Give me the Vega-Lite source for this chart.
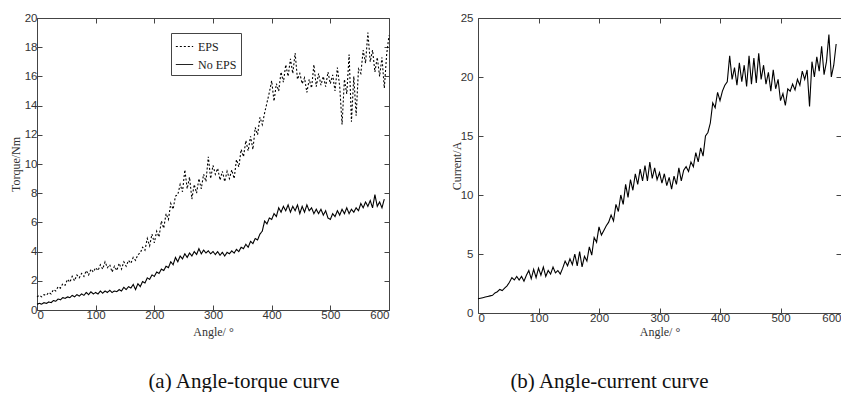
{
  "$schema": "https://vega.github.io/schema/vega-lite/v6.json",
  "background": "white",
  "padding": {"left": 8, "top": 11, "right": 0, "bottom": 0},
  "spacing": 57,
  "config": {
    "view": {"stroke": "#444", "strokeWidth": 1},
    "axis": {
      "domain": false,
      "grid": false,
      "tickSize": -5,
      "tickColor": "#444",
      "labelFont": "Liberation Sans",
      "labelFontSize": 11.5,
      "labelColor": "#333",
      "titleFont": "Liberation Serif",
      "titleFontSize": 12,
      "titleFontWeight": "normal",
      "titleColor": "#333"
    },
    "title": {"font": "Liberation Serif", "fontSize": 21, "fontWeight": "normal", "color": "#111", "orient": "bottom", "anchor": "middle"}
  },
  "datasets": {
    "torque": [
      {"a":0,"v":0.9,"s":"EPS"},{"a":4,"v":1.0,"s":"EPS"},{"a":8,"v":0.9,"s":"EPS"},{"a":12,"v":1.05,"s":"EPS"},{"a":16,"v":1.0,"s":"EPS"},{"a":20,"v":1.2,"s":"EPS"},{"a":24,"v":1.1,"s":"EPS"},{"a":28,"v":1.4,"s":"EPS"},{"a":32,"v":1.3,"s":"EPS"},{"a":36,"v":1.6,"s":"EPS"},{"a":40,"v":1.5,"s":"EPS"},{"a":44,"v":1.8,"s":"EPS"},{"a":48,"v":1.7,"s":"EPS"},{"a":52,"v":2.1,"s":"EPS"},{"a":56,"v":1.9,"s":"EPS"},{"a":60,"v":2.3,"s":"EPS"},{"a":64,"v":2.0,"s":"EPS"},{"a":68,"v":2.4,"s":"EPS"},{"a":72,"v":2.2,"s":"EPS"},{"a":76,"v":2.5,"s":"EPS"},{"a":80,"v":2.3,"s":"EPS"},{"a":84,"v":2.7,"s":"EPS"},{"a":88,"v":2.4,"s":"EPS"},{"a":92,"v":2.8,"s":"EPS"},{"a":96,"v":2.6,"s":"EPS"},{"a":100,"v":2.9,"s":"EPS"},{"a":104,"v":2.7,"s":"EPS"},{"a":108,"v":3.1,"s":"EPS"},{"a":112,"v":2.8,"s":"EPS"},{"a":116,"v":3.3,"s":"EPS"},{"a":120,"v":2.9,"s":"EPS"},{"a":124,"v":3.1,"s":"EPS"},{"a":128,"v":2.6,"s":"EPS"},{"a":132,"v":3.0,"s":"EPS"},{"a":136,"v":2.7,"s":"EPS"},{"a":140,"v":3.2,"s":"EPS"},{"a":144,"v":2.8,"s":"EPS"},{"a":148,"v":3.3,"s":"EPS"},{"a":152,"v":3.0,"s":"EPS"},{"a":156,"v":3.4,"s":"EPS"},{"a":160,"v":3.2,"s":"EPS"},{"a":164,"v":3.6,"s":"EPS"},{"a":168,"v":3.4,"s":"EPS"},{"a":172,"v":3.8,"s":"EPS"},{"a":176,"v":3.9,"s":"EPS"},{"a":180,"v":4.3,"s":"EPS"},{"a":184,"v":4.1,"s":"EPS"},{"a":188,"v":4.9,"s":"EPS"},{"a":192,"v":4.4,"s":"EPS"},{"a":196,"v":5.2,"s":"EPS"},{"a":200,"v":4.6,"s":"EPS"},{"a":204,"v":5.4,"s":"EPS"},{"a":208,"v":5.0,"s":"EPS"},{"a":212,"v":6.1,"s":"EPS"},{"a":216,"v":5.6,"s":"EPS"},{"a":220,"v":6.6,"s":"EPS"},{"a":224,"v":6.2,"s":"EPS"},{"a":228,"v":7.3,"s":"EPS"},{"a":232,"v":6.9,"s":"EPS"},{"a":236,"v":7.8,"s":"EPS"},{"a":240,"v":7.9,"s":"EPS"},{"a":244,"v":8.6,"s":"EPS"},{"a":248,"v":8.1,"s":"EPS"},{"a":252,"v":9.6,"s":"EPS"},{"a":256,"v":8.3,"s":"EPS"},{"a":260,"v":9.1,"s":"EPS"},{"a":264,"v":7.6,"s":"EPS"},{"a":268,"v":8.6,"s":"EPS"},{"a":272,"v":8.0,"s":"EPS"},{"a":276,"v":9.0,"s":"EPS"},{"a":280,"v":8.3,"s":"EPS"},{"a":284,"v":9.3,"s":"EPS"},{"a":288,"v":8.8,"s":"EPS"},{"a":292,"v":10.5,"s":"EPS"},{"a":296,"v":9.0,"s":"EPS"},{"a":300,"v":9.9,"s":"EPS"},{"a":304,"v":9.3,"s":"EPS"},{"a":308,"v":9.7,"s":"EPS"},{"a":312,"v":8.9,"s":"EPS"},{"a":316,"v":9.5,"s":"EPS"},{"a":320,"v":8.8,"s":"EPS"},{"a":324,"v":9.5,"s":"EPS"},{"a":328,"v":9.0,"s":"EPS"},{"a":332,"v":9.6,"s":"EPS"},{"a":336,"v":9.0,"s":"EPS"},{"a":340,"v":10.3,"s":"EPS"},{"a":344,"v":9.8,"s":"EPS"},{"a":348,"v":11.0,"s":"EPS"},{"a":352,"v":10.5,"s":"EPS"},{"a":356,"v":11.6,"s":"EPS"},{"a":360,"v":10.9,"s":"EPS"},{"a":364,"v":11.9,"s":"EPS"},{"a":368,"v":11.0,"s":"EPS"},{"a":372,"v":12.5,"s":"EPS"},{"a":376,"v":12.0,"s":"EPS"},{"a":380,"v":13.2,"s":"EPS"},{"a":384,"v":12.7,"s":"EPS"},{"a":388,"v":13.5,"s":"EPS"},{"a":392,"v":14.2,"s":"EPS"},{"a":396,"v":14.9,"s":"EPS"},{"a":400,"v":15.7,"s":"EPS"},{"a":404,"v":14.3,"s":"EPS"},{"a":408,"v":15.5,"s":"EPS"},{"a":412,"v":15.0,"s":"EPS"},{"a":416,"v":16.3,"s":"EPS"},{"a":420,"v":15.6,"s":"EPS"},{"a":424,"v":16.8,"s":"EPS"},{"a":428,"v":16.0,"s":"EPS"},{"a":432,"v":17.2,"s":"EPS"},{"a":436,"v":16.2,"s":"EPS"},{"a":440,"v":17.6,"s":"EPS"},{"a":444,"v":15.8,"s":"EPS"},{"a":448,"v":16.2,"s":"EPS"},{"a":452,"v":15.5,"s":"EPS"},{"a":456,"v":15.9,"s":"EPS"},{"a":460,"v":14.9,"s":"EPS"},{"a":464,"v":15.8,"s":"EPS"},{"a":468,"v":15.2,"s":"EPS"},{"a":472,"v":16.8,"s":"EPS"},{"a":476,"v":15.3,"s":"EPS"},{"a":480,"v":16.2,"s":"EPS"},{"a":484,"v":15.4,"s":"EPS"},{"a":488,"v":16.0,"s":"EPS"},{"a":492,"v":15.3,"s":"EPS"},{"a":496,"v":16.3,"s":"EPS"},{"a":500,"v":15.5,"s":"EPS"},{"a":504,"v":16.1,"s":"EPS"},{"a":508,"v":15.0,"s":"EPS"},{"a":512,"v":16.6,"s":"EPS"},{"a":516,"v":15.3,"s":"EPS"},{"a":520,"v":12.7,"s":"EPS"},{"a":524,"v":15.8,"s":"EPS"},{"a":528,"v":14.8,"s":"EPS"},{"a":532,"v":17.5,"s":"EPS"},{"a":536,"v":12.9,"s":"EPS"},{"a":540,"v":16.0,"s":"EPS"},{"a":544,"v":13.3,"s":"EPS"},{"a":548,"v":16.5,"s":"EPS"},{"a":552,"v":16.2,"s":"EPS"},{"a":556,"v":17.8,"s":"EPS"},{"a":560,"v":16.9,"s":"EPS"},{"a":564,"v":19.0,"s":"EPS"},{"a":568,"v":17.0,"s":"EPS"},{"a":572,"v":17.8,"s":"EPS"},{"a":576,"v":16.3,"s":"EPS"},{"a":580,"v":17.3,"s":"EPS"},{"a":584,"v":16.0,"s":"EPS"},{"a":588,"v":17.3,"s":"EPS"},{"a":592,"v":15.2,"s":"EPS"},{"a":596,"v":17.5,"s":"EPS"},{"a":600,"v":18.8,"s":"EPS"},
      {"a":0,"v":0.4,"s":"No EPS"},{"a":4,"v":0.45,"s":"No EPS"},{"a":8,"v":0.4,"s":"No EPS"},{"a":12,"v":0.5,"s":"No EPS"},{"a":16,"v":0.45,"s":"No EPS"},{"a":20,"v":0.55,"s":"No EPS"},{"a":24,"v":0.5,"s":"No EPS"},{"a":28,"v":0.65,"s":"No EPS"},{"a":32,"v":0.6,"s":"No EPS"},{"a":36,"v":0.75,"s":"No EPS"},{"a":40,"v":0.7,"s":"No EPS"},{"a":44,"v":0.85,"s":"No EPS"},{"a":48,"v":0.8,"s":"No EPS"},{"a":52,"v":0.9,"s":"No EPS"},{"a":56,"v":0.85,"s":"No EPS"},{"a":60,"v":1.0,"s":"No EPS"},{"a":64,"v":0.9,"s":"No EPS"},{"a":68,"v":1.05,"s":"No EPS"},{"a":72,"v":0.95,"s":"No EPS"},{"a":76,"v":1.1,"s":"No EPS"},{"a":80,"v":1.0,"s":"No EPS"},{"a":84,"v":1.2,"s":"No EPS"},{"a":88,"v":1.05,"s":"No EPS"},{"a":92,"v":1.25,"s":"No EPS"},{"a":96,"v":1.1,"s":"No EPS"},{"a":100,"v":1.2,"s":"No EPS"},{"a":104,"v":1.1,"s":"No EPS"},{"a":108,"v":1.3,"s":"No EPS"},{"a":112,"v":1.15,"s":"No EPS"},{"a":116,"v":1.3,"s":"No EPS"},{"a":120,"v":1.2,"s":"No EPS"},{"a":124,"v":1.35,"s":"No EPS"},{"a":128,"v":1.2,"s":"No EPS"},{"a":132,"v":1.3,"s":"No EPS"},{"a":136,"v":1.25,"s":"No EPS"},{"a":140,"v":1.4,"s":"No EPS"},{"a":144,"v":1.3,"s":"No EPS"},{"a":148,"v":1.55,"s":"No EPS"},{"a":152,"v":1.4,"s":"No EPS"},{"a":156,"v":1.6,"s":"No EPS"},{"a":160,"v":1.5,"s":"No EPS"},{"a":164,"v":1.75,"s":"No EPS"},{"a":168,"v":1.4,"s":"No EPS"},{"a":172,"v":1.8,"s":"No EPS"},{"a":176,"v":1.6,"s":"No EPS"},{"a":180,"v":1.95,"s":"No EPS"},{"a":184,"v":1.85,"s":"No EPS"},{"a":188,"v":2.2,"s":"No EPS"},{"a":192,"v":2.1,"s":"No EPS"},{"a":196,"v":2.4,"s":"No EPS"},{"a":200,"v":2.3,"s":"No EPS"},{"a":204,"v":2.6,"s":"No EPS"},{"a":208,"v":2.5,"s":"No EPS"},{"a":212,"v":2.8,"s":"No EPS"},{"a":216,"v":2.7,"s":"No EPS"},{"a":220,"v":3.0,"s":"No EPS"},{"a":224,"v":2.9,"s":"No EPS"},{"a":228,"v":3.3,"s":"No EPS"},{"a":232,"v":3.1,"s":"No EPS"},{"a":236,"v":3.6,"s":"No EPS"},{"a":240,"v":3.3,"s":"No EPS"},{"a":244,"v":3.7,"s":"No EPS"},{"a":248,"v":3.5,"s":"No EPS"},{"a":252,"v":3.85,"s":"No EPS"},{"a":256,"v":3.6,"s":"No EPS"},{"a":260,"v":3.9,"s":"No EPS"},{"a":264,"v":3.7,"s":"No EPS"},{"a":268,"v":4.0,"s":"No EPS"},{"a":272,"v":3.8,"s":"No EPS"},{"a":276,"v":4.2,"s":"No EPS"},{"a":280,"v":3.85,"s":"No EPS"},{"a":284,"v":4.1,"s":"No EPS"},{"a":288,"v":3.9,"s":"No EPS"},{"a":292,"v":4.05,"s":"No EPS"},{"a":296,"v":3.85,"s":"No EPS"},{"a":300,"v":4.0,"s":"No EPS"},{"a":304,"v":3.8,"s":"No EPS"},{"a":308,"v":4.0,"s":"No EPS"},{"a":312,"v":3.75,"s":"No EPS"},{"a":316,"v":3.95,"s":"No EPS"},{"a":320,"v":3.7,"s":"No EPS"},{"a":324,"v":3.95,"s":"No EPS"},{"a":328,"v":3.85,"s":"No EPS"},{"a":332,"v":4.05,"s":"No EPS"},{"a":336,"v":3.9,"s":"No EPS"},{"a":340,"v":4.15,"s":"No EPS"},{"a":344,"v":4.0,"s":"No EPS"},{"a":348,"v":4.3,"s":"No EPS"},{"a":352,"v":4.2,"s":"No EPS"},{"a":356,"v":4.5,"s":"No EPS"},{"a":360,"v":4.3,"s":"No EPS"},{"a":364,"v":4.7,"s":"No EPS"},{"a":368,"v":4.55,"s":"No EPS"},{"a":372,"v":4.9,"s":"No EPS"},{"a":376,"v":4.8,"s":"No EPS"},{"a":380,"v":5.2,"s":"No EPS"},{"a":384,"v":5.4,"s":"No EPS"},{"a":388,"v":6.1,"s":"No EPS"},{"a":392,"v":5.9,"s":"No EPS"},{"a":396,"v":6.3,"s":"No EPS"},{"a":400,"v":6.2,"s":"No EPS"},{"a":404,"v":6.6,"s":"No EPS"},{"a":408,"v":6.4,"s":"No EPS"},{"a":412,"v":7.0,"s":"No EPS"},{"a":416,"v":6.7,"s":"No EPS"},{"a":420,"v":7.1,"s":"No EPS"},{"a":424,"v":6.8,"s":"No EPS"},{"a":428,"v":7.2,"s":"No EPS"},{"a":432,"v":6.7,"s":"No EPS"},{"a":436,"v":7.1,"s":"No EPS"},{"a":440,"v":6.8,"s":"No EPS"},{"a":444,"v":7.2,"s":"No EPS"},{"a":448,"v":6.6,"s":"No EPS"},{"a":452,"v":7.1,"s":"No EPS"},{"a":456,"v":6.7,"s":"No EPS"},{"a":460,"v":7.2,"s":"No EPS"},{"a":464,"v":6.8,"s":"No EPS"},{"a":468,"v":7.0,"s":"No EPS"},{"a":472,"v":6.6,"s":"No EPS"},{"a":476,"v":6.9,"s":"No EPS"},{"a":480,"v":6.6,"s":"No EPS"},{"a":484,"v":6.9,"s":"No EPS"},{"a":488,"v":6.5,"s":"No EPS"},{"a":492,"v":6.8,"s":"No EPS"},{"a":496,"v":6.3,"s":"No EPS"},{"a":500,"v":6.2,"s":"No EPS"},{"a":504,"v":6.6,"s":"No EPS"},{"a":508,"v":6.4,"s":"No EPS"},{"a":512,"v":6.8,"s":"No EPS"},{"a":516,"v":6.5,"s":"No EPS"},{"a":520,"v":6.9,"s":"No EPS"},{"a":524,"v":6.6,"s":"No EPS"},{"a":528,"v":7.0,"s":"No EPS"},{"a":532,"v":6.6,"s":"No EPS"},{"a":536,"v":6.9,"s":"No EPS"},{"a":540,"v":6.7,"s":"No EPS"},{"a":544,"v":7.0,"s":"No EPS"},{"a":548,"v":6.8,"s":"No EPS"},{"a":552,"v":7.3,"s":"No EPS"},{"a":556,"v":7.0,"s":"No EPS"},{"a":560,"v":7.4,"s":"No EPS"},{"a":564,"v":7.1,"s":"No EPS"},{"a":568,"v":7.5,"s":"No EPS"},{"a":572,"v":7.0,"s":"No EPS"},{"a":576,"v":7.9,"s":"No EPS"},{"a":580,"v":7.1,"s":"No EPS"},{"a":584,"v":7.4,"s":"No EPS"},{"a":588,"v":7.0,"s":"No EPS"},{"a":592,"v":7.6,"s":"No EPS"}
    ],
    "current": [
      {"a":0,"v":1.2},{"a":4,"v":1.25},{"a":8,"v":1.3},{"a":12,"v":1.35},{"a":16,"v":1.4},{"a":20,"v":1.45},{"a":24,"v":1.5},{"a":28,"v":1.7},{"a":32,"v":1.8},{"a":36,"v":2.0},{"a":40,"v":1.9},{"a":44,"v":2.1},{"a":48,"v":2.3},{"a":52,"v":2.6},{"a":56,"v":3.0},{"a":60,"v":2.8},{"a":64,"v":3.1},{"a":68,"v":2.8},{"a":72,"v":3.1},{"a":76,"v":2.7},{"a":80,"v":3.2},{"a":84,"v":3.6},{"a":88,"v":2.9},{"a":92,"v":3.7},{"a":96,"v":3.0},{"a":100,"v":3.8},{"a":104,"v":3.2},{"a":108,"v":3.9},{"a":112,"v":3.1},{"a":116,"v":3.6},{"a":120,"v":3.3},{"a":124,"v":3.9},{"a":128,"v":3.4},{"a":132,"v":3.6},{"a":136,"v":3.3},{"a":140,"v":3.8},{"a":144,"v":4.4},{"a":148,"v":4.0},{"a":152,"v":4.6},{"a":156,"v":4.1},{"a":160,"v":5.0},{"a":164,"v":4.0},{"a":168,"v":5.2},{"a":172,"v":3.9},{"a":176,"v":4.8},{"a":180,"v":4.4},{"a":184,"v":5.6},{"a":188,"v":4.9},{"a":192,"v":6.4},{"a":196,"v":6.0},{"a":200,"v":7.3},{"a":204,"v":6.6},{"a":208,"v":7.0},{"a":212,"v":7.4},{"a":216,"v":7.7},{"a":220,"v":8.3},{"a":224,"v":7.8},{"a":228,"v":9.2},{"a":232,"v":8.6},{"a":236,"v":10.0},{"a":240,"v":9.2},{"a":244,"v":10.9},{"a":248,"v":9.8},{"a":252,"v":11.3},{"a":256,"v":10.4},{"a":260,"v":11.8},{"a":264,"v":10.9},{"a":268,"v":12.2},{"a":272,"v":11.2},{"a":276,"v":12.5},{"a":280,"v":11.2},{"a":284,"v":12.8},{"a":288,"v":11.4},{"a":292,"v":12.3},{"a":296,"v":11.3},{"a":300,"v":11.9},{"a":304,"v":11.0},{"a":308,"v":11.8},{"a":312,"v":10.8},{"a":316,"v":11.5},{"a":320,"v":10.5},{"a":324,"v":11.6},{"a":328,"v":10.9},{"a":332,"v":12.3},{"a":336,"v":11.2},{"a":340,"v":12.1},{"a":344,"v":12.4},{"a":348,"v":12.0},{"a":352,"v":12.8},{"a":356,"v":12.4},{"a":360,"v":13.6},{"a":364,"v":12.8},{"a":368,"v":14.0},{"a":372,"v":13.3},{"a":376,"v":15.0},{"a":380,"v":15.3},{"a":384,"v":16.1},{"a":388,"v":17.8},{"a":392,"v":17.4},{"a":396,"v":18.7},{"a":400,"v":18.0},{"a":404,"v":18.8},{"a":408,"v":19.3},{"a":412,"v":19.6},{"a":416,"v":21.8},{"a":420,"v":19.8},{"a":424,"v":20.8},{"a":428,"v":19.3},{"a":432,"v":21.2},{"a":436,"v":19.6},{"a":440,"v":21.0},{"a":444,"v":19.2},{"a":448,"v":21.8},{"a":452,"v":19.4},{"a":456,"v":21.6},{"a":460,"v":19.5},{"a":464,"v":22.0},{"a":468,"v":19.8},{"a":472,"v":21.0},{"a":476,"v":19.4},{"a":480,"v":20.4},{"a":484,"v":18.8},{"a":488,"v":20.6},{"a":492,"v":19.0},{"a":496,"v":19.8},{"a":500,"v":18.0},{"a":504,"v":18.6},{"a":508,"v":17.6},{"a":512,"v":19.0},{"a":516,"v":18.8},{"a":520,"v":19.4},{"a":524,"v":18.9},{"a":528,"v":19.8},{"a":532,"v":19.3},{"a":536,"v":20.5},{"a":540,"v":19.8},{"a":544,"v":20.6},{"a":548,"v":17.5},{"a":552,"v":21.3},{"a":556,"v":20.0},{"a":560,"v":21.7},{"a":564,"v":20.5},{"a":568,"v":22.6},{"a":572,"v":20.2},{"a":576,"v":21.3},{"a":580,"v":23.6},{"a":584,"v":20.0},{"a":588,"v":21.0},{"a":592,"v":22.8}
    ]
  },
  "hconcat": [
    {
      "width": 352,
      "height": 292,
      "title": {"text": "(a) Angle-torque curve", "offset": 33, "dx": 31, "font": "Liberation Serif", "fontSize": 21},
      "layer": [
        {
          "data": {"name": "torque"},
          "mark": {"type": "line", "color": "black", "strokeWidth": 1.1},
          "encoding": {
            "x": {"field": "a", "type": "quantitative", "scale": {"domain": [0, 600], "nice": false}, "axis": {"values": [0,100,200,300,400,500,600], "title": "Angle/ °", "labelPadding": 4, "titlePadding": 6}},
            "y": {"field": "v", "type": "quantitative", "scale": {"domain": [0, 20], "nice": false}, "axis": {"values": [0,2,4,6,8,10,12,14,16,18,20], "title": "Torque/Nm", "labelPadding": 5, "titlePadding": 2}},
            "strokeDash": {
              "field": "s", "type": "nominal",
              "scale": {"domain": ["EPS", "No EPS"], "range": [[2, 2], [1, 0]]},
              "legend": {
                "orient": "none", "legendX": 134, "legendY": 15, "title": null,
                "strokeColor": "#444", "padding": 4, "fillColor": "white",
                "symbolType": "stroke", "symbolStrokeColor": "black", "symbolStrokeWidth": 1, "symbolSize": 300,
                "labelFont": "Liberation Serif", "labelFontSize": 12, "labelColor": "#222", "rowPadding": 2
              }
            }
          }
        },
        {
          "data": {"values": [{"a": 0, "v": 0}]},
          "mark": {"type": "point", "opacity": 0},
          "encoding": {
            "x": {"field": "a", "type": "quantitative", "axis": {"orient": "top", "labels": false, "title": null, "values": [0,100,200,300,400,500,600]}},
            "y": {"field": "v", "type": "quantitative", "axis": {"orient": "right", "labels": false, "title": null, "values": [0,2,4,6,8,10,12,14,16,18,20]}}
          }
        }
      ],
      "resolve": {"axis": {"x": "independent", "y": "independent"}}
    },
    {
      "width": 363,
      "height": 295,
      "title": {"text": "(b) Angle-current curve", "offset": 33, "dx": -50, "font": "Liberation Serif", "fontSize": 21},
      "layer": [
        {
          "data": {"name": "current"},
          "mark": {"type": "line", "color": "black", "strokeWidth": 1.1},
          "encoding": {
            "x": {"field": "a", "type": "quantitative", "scale": {"domain": [0, 600], "nice": false}, "axis": {"values": [0,100,200,300,400,500,600], "title": "Angle/ °", "labelPadding": 4, "titlePadding": 3}},
            "y": {"field": "v", "type": "quantitative", "scale": {"domain": [0, 25], "nice": false}, "axis": {"values": [0,5,10,15,20,25], "title": "Current/A", "labelPadding": 10, "titlePadding": -3}}
          }
        },
        {
          "data": {"values": [{"a": 0, "v": 0}]},
          "mark": {"type": "point", "opacity": 0},
          "encoding": {
            "x": {"field": "a", "type": "quantitative", "axis": {"orient": "top", "labels": false, "title": null, "values": [0,100,200,300,400,500,600]}},
            "y": {"field": "v", "type": "quantitative", "axis": {"orient": "right", "labels": false, "title": null, "values": [0,5,10,15,20,25]}}
          }
        }
      ],
      "resolve": {"axis": {"x": "independent", "y": "independent"}}
    }
  ]
}
